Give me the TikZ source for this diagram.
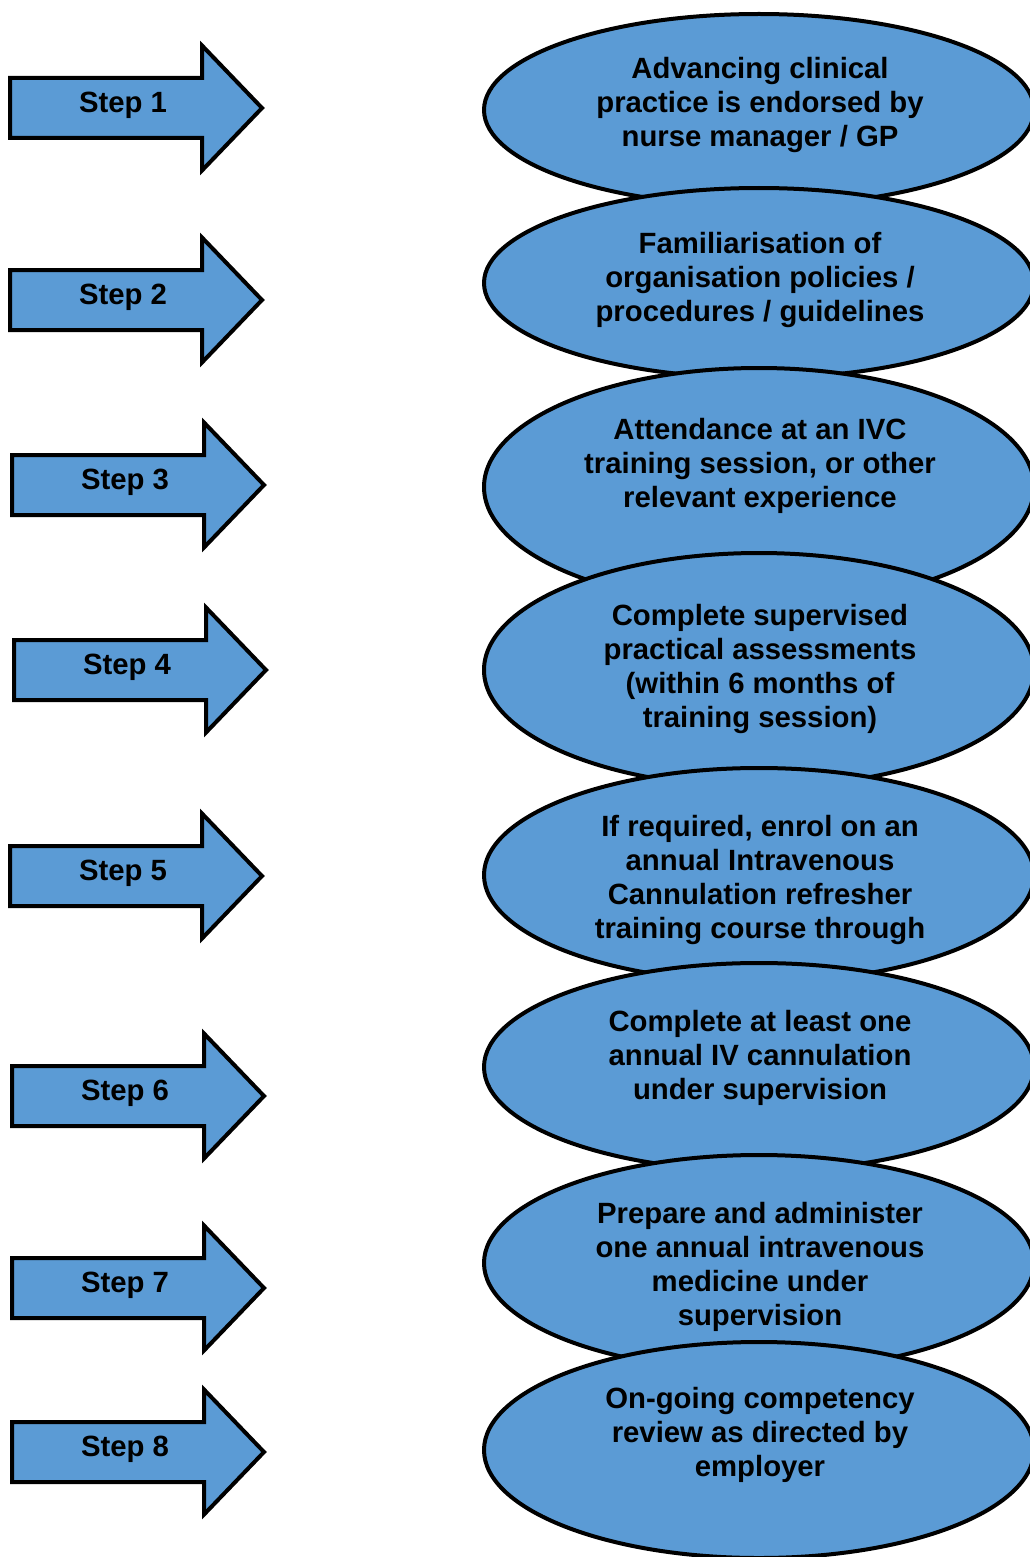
\documentclass[tikz,border=0pt]{standalone}
\usepackage{fontspec}
\setmainfont{Liberation Sans}
\usetikzlibrary{shapes.geometric}
\definecolor{fillblue}{HTML}{5B9BD5}
\tikzset{
 ell/.style={ellipse, draw=black, line width=4pt, fill=fillblue, minimum width=550pt, inner sep=0pt},
 txt/.style={align=center, font=\bfseries\fontsize{29.3}{34.2}\selectfont, inner sep=0pt},
 steparrow/.style={draw=black, line width=4pt, fill=fillblue, line join=miter},
}
\begin{document}
\begin{tikzpicture}[x=1pt,y=-1pt]
\useasboundingbox (0,0) rectangle (1029,1557);
\foreach \n/\L/\c in {1/10/108, 2/10/300, 3/12/485, 4/14/670, 5/10/876, 6/12/1096, 7/12/1288, 8/12/1452}{
 \draw[steparrow] (\L,\c-30) -- ++(192,0) -- ++(0,-32.5) -- (\L+252,\c) -- (\L+192,\c+62.5) -- ++(0,-32.5) -- (\L,\c+30) -- cycle;
 \node[txt] (s\n) at (\L+113,\c-3) {Step \n};
}
\node[ell, minimum height=192pt] (e1) at (759,110) {};
\node[txt] (t1) at (760,105) {Advancing clinical\\practice is endorsed by\\nurse manager / GP};
\node[ell, minimum height=190pt] (e2) at (759,283) {};
\node[txt] (t2) at (760,280) {Familiarisation of\\organisation policies /\\procedures / guidelines};
\node[ell, minimum height=238pt] (e3) at (759,487) {};
\node[txt] (t3) at (760,466) {Attendance at an IVC\\training session, or other\\relevant experience};
\node[ell, minimum height=234pt] (e4) at (759,670) {};
\node[txt] (t4) at (760,669) {Complete supervised\\practical assessments\\(within 6 months of\\training session)};
\node[ell, minimum height=214pt] (e5) at (759,875) {};
\node[txt] (t5) at (760,880) {If required, enrol on an\\annual Intravenous\\Cannulation refresher\\training course through};
\node[ell, minimum height=208pt] (e6) at (759,1067) {};
\node[txt] (t6) at (760,1058) {Complete at least one\\annual IV cannulation\\under supervision};
\node[ell, minimum height=216pt] (e7) at (759,1263) {};
\node[txt] (t7) at (760,1267) {Prepare and administer\\one annual intravenous\\medicine under\\supervision};
\node[ell, minimum height=216pt] (e8) at (759,1450) {};
\node[txt] (t8) at (760,1435) {On-going competency\\review as directed by\\employer};
\end{tikzpicture}
\end{document}
